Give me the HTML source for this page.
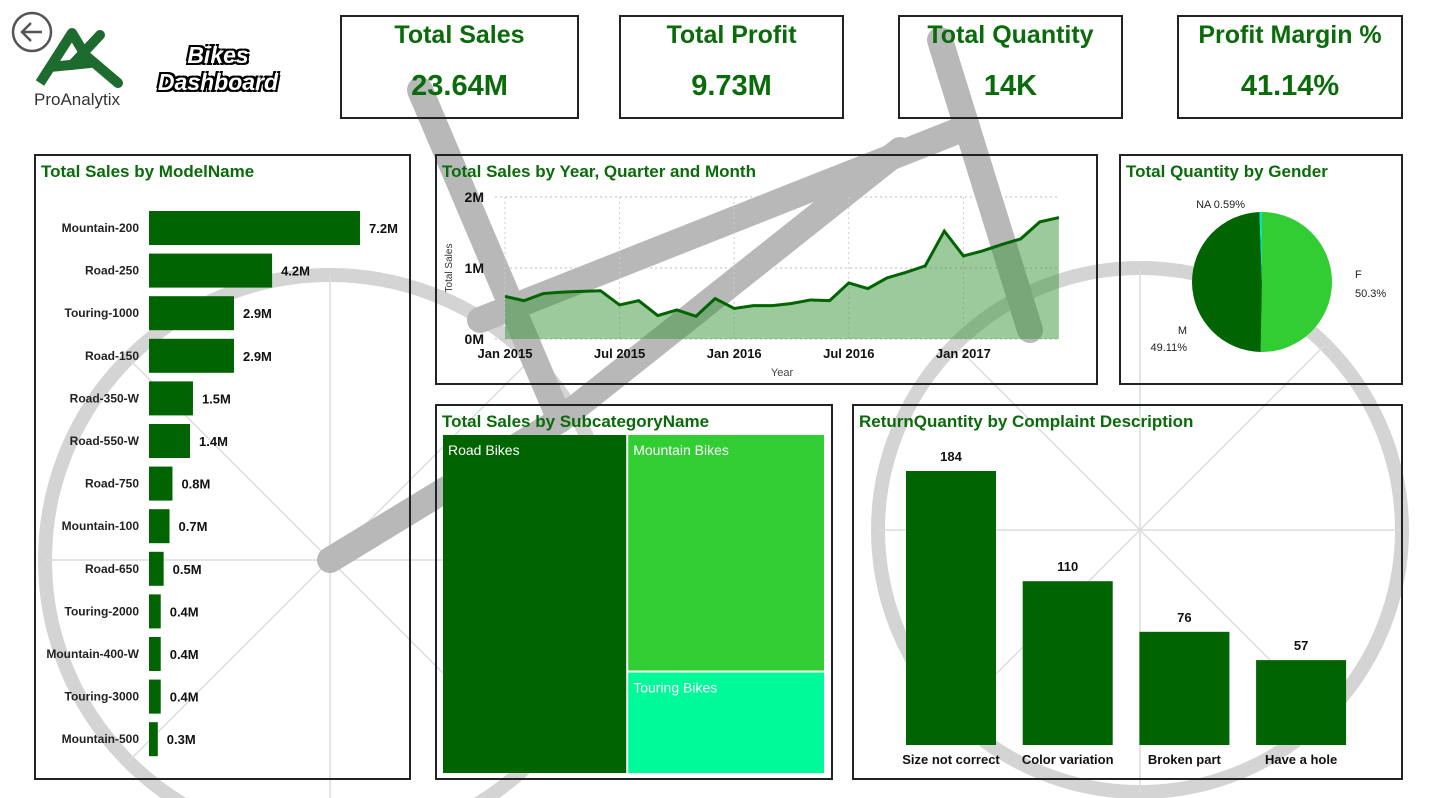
<!DOCTYPE html>
<html><head><meta charset="utf-8"><style>
*{margin:0;padding:0;box-sizing:border-box}
html,body{width:1440px;height:798px;overflow:hidden}
body{background:#fff;position:relative;font-family:"Liberation Sans",sans-serif}
.box{position:absolute;border:2px solid #222;background:transparent}
.kpi{text-align:center;color:#0a6b0a;font-weight:bold}
.kpi .t{font-size:25px;margin-top:4px}
.kpi .v{font-size:29px;margin-top:20px}
.ttl{position:absolute;left:5px;top:6px;font-size:17px;font-weight:bold;color:#0a6b0a}
svg{overflow:hidden}
svg text{font-family:"Liberation Sans",sans-serif}
</style></head><body>
<svg width="1440" height="798" style="position:absolute;left:0;top:0" viewBox="0 0 1440 798">
<g fill="none" stroke="#d4d4d4">
<circle cx="330" cy="560" r="285" stroke-width="14"/>
<circle cx="1140" cy="530" r="262" stroke-width="14"/>
<g stroke-width="1.5" stroke="#dcdcdc"><line x1="330" y1="275" x2="330" y2="798"/><line x1="45" y1="560" x2="615" y2="560"/><line x1="128" y1="358" x2="532" y2="762"/><line x1="532" y1="358" x2="128" y2="762"/>
<line x1="1140" y1="268" x2="1140" y2="792"/><line x1="878" y1="530" x2="1402" y2="530"/><line x1="955" y1="345" x2="1325" y2="715"/><line x1="1325" y1="345" x2="955" y2="715"/></g>
</g>
<g stroke="#b8b8b8" stroke-width="26" stroke-linecap="round" fill="none">
<line x1="420" y1="90" x2="560" y2="420"/><line x1="480" y1="320" x2="960" y2="130"/><line x1="940" y1="40" x2="1030" y2="330"/><line x1="560" y1="420" x2="900" y2="150"/><line x1="560" y1="420" x2="330" y2="560"/>
</g>
</svg>

<svg width="44" height="44" style="position:absolute;left:10px;top:10px"><circle cx="22" cy="22" r="19" fill="#fff" stroke="#555" stroke-width="2.5"/><path d="M32 22H13M21 13l-9 9 9 9" stroke="#555" stroke-width="2.5" fill="none"/></svg>
<svg width="110" height="90" style="position:absolute;left:30px;top:25px"><path d="M10 58 L42 8 L60 38 L20 42" stroke="#1e6b30" stroke-width="10" fill="none" stroke-linejoin="round"/><path d="M70 10 L42 40 M55 30 L88 58" stroke="#1e6b30" stroke-width="10" fill="none" stroke-linecap="round"/><text x="4" y="80" font-size="17" fill="#333">ProAnalytix</text></svg>
<div style="position:absolute;left:148px;top:42px;font-size:23px;font-weight:bold;font-style:italic;color:#fff;text-shadow:-2px -2px 0 #000,2px -2px 0 #000,-2px 2px 0 #000,2px 2px 0 #000;line-height:27px;text-align:center;width:140px">Bikes<br>Dashboard</div>

<div class="box kpi" style="left:340px;top:15px;width:239px;height:104px"><div class="t">Total Sales</div><div class="v">23.64M</div></div>
<div class="box kpi" style="left:619px;top:15px;width:225px;height:104px"><div class="t">Total Profit</div><div class="v">9.73M</div></div>
<div class="box kpi" style="left:898px;top:15px;width:225px;height:104px"><div class="t">Total Quantity</div><div class="v">14K</div></div>
<div class="box kpi" style="left:1177px;top:15px;width:226px;height:104px"><div class="t">Profit Margin %</div><div class="v">41.14%</div></div>

<div class="box" style="left:34px;top:154px;width:377px;height:626px"><div class="ttl">Total Sales by ModelName</div></div>
<div class="box" style="left:435px;top:154px;width:663px;height:231px"><div class="ttl">Total Sales by Year, Quarter and Month</div></div>
<div class="box" style="left:1119px;top:154px;width:284px;height:231px"><div class="ttl">Total Quantity by Gender</div></div>
<div class="box" style="left:435px;top:404px;width:398px;height:376px"><div class="ttl">Total Sales by SubcategoryName</div></div>
<div class="box" style="left:852px;top:404px;width:551px;height:376px"><div class="ttl">ReturnQuantity by Complaint Description</div></div>

<svg id="charts" width="1440" height="798" style="position:absolute;left:0;top:0"></svg>
<script>
const models=["Mountain-200","Road-250","Touring-1000","Road-150","Road-350-W","Road-550-W","Road-750","Mountain-100","Road-650","Touring-2000","Mountain-400-W","Touring-3000","Mountain-500"];
const modelSales=[7.2,4.2,2.9,2.9,1.5,1.4,0.8,0.7,0.5,0.4,0.4,0.4,0.3];
const monthSales=[0.60,0.54,0.64,0.66,0.67,0.68,0.48,0.54,0.33,0.41,0.32,0.57,0.43,0.47,0.47,0.50,0.55,0.54,0.79,0.71,0.86,0.94,1.03,1.52,1.17,1.24,1.33,1.41,1.65,1.71];
const timeTicks=["Jan 2015","Jul 2015","Jan 2016","Jul 2016","Jan 2017"];
const yTicks=[0,1,2];
const genders=["F","M","NA"];
const genderPct=[50.3,49.11,0.59];
const subcats=["Road Bikes","Mountain Bikes","Touring Bikes"];
const subSales=[11.3,8.5,3.7];
const complaints=["Size not correct","Color variation","Broken part","Have a hole"];
const returnQty=[184,110,76,57];

const S=document.getElementById('charts');const NS="http://www.w3.org/2000/svg";
function mk(t,a,txt){const e=document.createElementNS(NS,t);for(const k in a)e.setAttribute(k,a[k]);if(txt!==undefined)e.textContent=txt;S.appendChild(e);return e;}
const G="#006400";
const bx=v=>v/7.2*211, by=i=>228+i*42.6;
models.forEach((m,i)=>{
 let t=mk('text',{x:139,y:by(i)+4,'text-anchor':'end','font-size':12,'font-weight':'bold',fill:'#222'},m);
 
 let r=mk('rect',{x:149,y:by(i)-17,width:bx(modelSales[i]),height:34,fill:G});
 
 let v=mk('text',{x:149+bx(modelSales[i])+9,y:by(i)+5,'font-size':13,'font-weight':'bold',fill:'#111'},modelSales[i].toFixed(1)+'M');
 
});
const lx=i=>505+i*19.1, ly=v=>339-v*71;
yTicks.forEach(t=>{
 let g=mk('line',{x1:495,x2:1060,y1:ly(t),y2:ly(t),stroke:'#bbb','stroke-dasharray':'2 3'});
 
 let l=mk('text',{x:484,y:ly(t)+5,'text-anchor':'end','font-size':14,'font-weight':'bold',fill:'#111'},t+'M');
 
});
timeTicks.forEach((t,i)=>{
 let g=mk('line',{x1:lx(i*6),x2:lx(i*6),y1:ly(2),y2:ly(0),stroke:'#ccc','stroke-dasharray':'2 3'});
 
 let l=mk('text',{x:lx(i*6),y:358,'text-anchor':'middle','font-size':13,'font-weight':'bold',fill:'#111'},t);
 
});
let pts=monthSales.map((v,i)=>lx(i)+','+ly(v)).join(' ');
let ar=mk('polygon',{points:lx(0)+','+ly(0)+' '+pts+' '+lx(monthSales.length-1)+','+ly(0),fill:'rgba(60,150,60,0.5)'});

let ln=mk('polyline',{points:pts,fill:'none',stroke:G,'stroke-width':3});

let yt=mk('text',{x:452,y:268,'font-size':10,fill:'#333',transform:'rotate(-90 452 268)','text-anchor':'middle'},'Total Sales');

let xt=mk('text',{x:782,y:376,'font-size':11,fill:'#444','text-anchor':'middle'},'Year');

const cx=1262,cy=282,R=70,cols=["#32cd32",G,"#00e5c0"];
let tot=genderPct.reduce((a,b)=>a+b,0),a0=0;
genderPct.forEach((p,i)=>{
 let a1=a0+p/tot*2*Math.PI;
 let x0=cx+R*Math.sin(a0),y0=cy-R*Math.cos(a0),x1=cx+R*Math.sin(a1),y1=cy-R*Math.cos(a1);
 let s=mk('path',{d:`M${cx},${cy}L${x0},${y0}A${R},${R} 0 ${a1-a0>Math.PI?1:0} 1 ${x1},${y1}Z`,fill:cols[i]});
 
 a0=a1;
});
[[1355,278,'start',genders[0]],[1355,297,'start',genderPct[0]+'%'],[1187,334,'end',genders[1]],[1187,351,'end',genderPct[1]+'%'],[1245,208,'end',genders[2]+' '+genderPct[2]+'%']].forEach(d=>{
 let t=mk('text',{x:d[0],y:d[1],'text-anchor':d[2],'font-size':11,fill:'#222'},d[3]);
 
});
const TX=443,TY=435,TW=381,TH=338;let st=subSales.reduce((a,b)=>a+b,0);
let w0=TW*subSales[0]/st, rs=subSales[1]+subSales[2], h1=TH*subSales[1]/rs;
const tiles=[[TX,TY,w0,TH,G],[TX+w0+2,TY,TW-w0-2,h1,"#32cd32"],[TX+w0+2,TY+h1+2,TW-w0-2,TH-h1-2,"#00fa9a"]];
tiles.forEach((t,i)=>{
 let r=mk('rect',{x:t[0],y:t[1],width:t[2],height:t[3],fill:t[4]});
 
 let l=mk('text',{x:t[0]+5,y:t[1]+20,'font-size':14,fill:'#fff'},subcats[i]);
 
});
const rx=i=>906+i*116.7, rh=v=>v/184*274, RB=745;
complaints.forEach((c,i)=>{
 let r=mk('rect',{x:rx(i),y:RB-rh(returnQty[i]),width:90,height:rh(returnQty[i]),fill:G});
 
 let v=mk('text',{x:rx(i)+45,y:RB-rh(returnQty[i])-10,'text-anchor':'middle','font-size':13,'font-weight':'bold',fill:'#111'},returnQty[i]);
 
 let l=mk('text',{x:rx(i)+45,y:764,'text-anchor':'middle','font-size':13,'font-weight':'bold',fill:'#111'},c);
 
});
</script>
</body></html>
